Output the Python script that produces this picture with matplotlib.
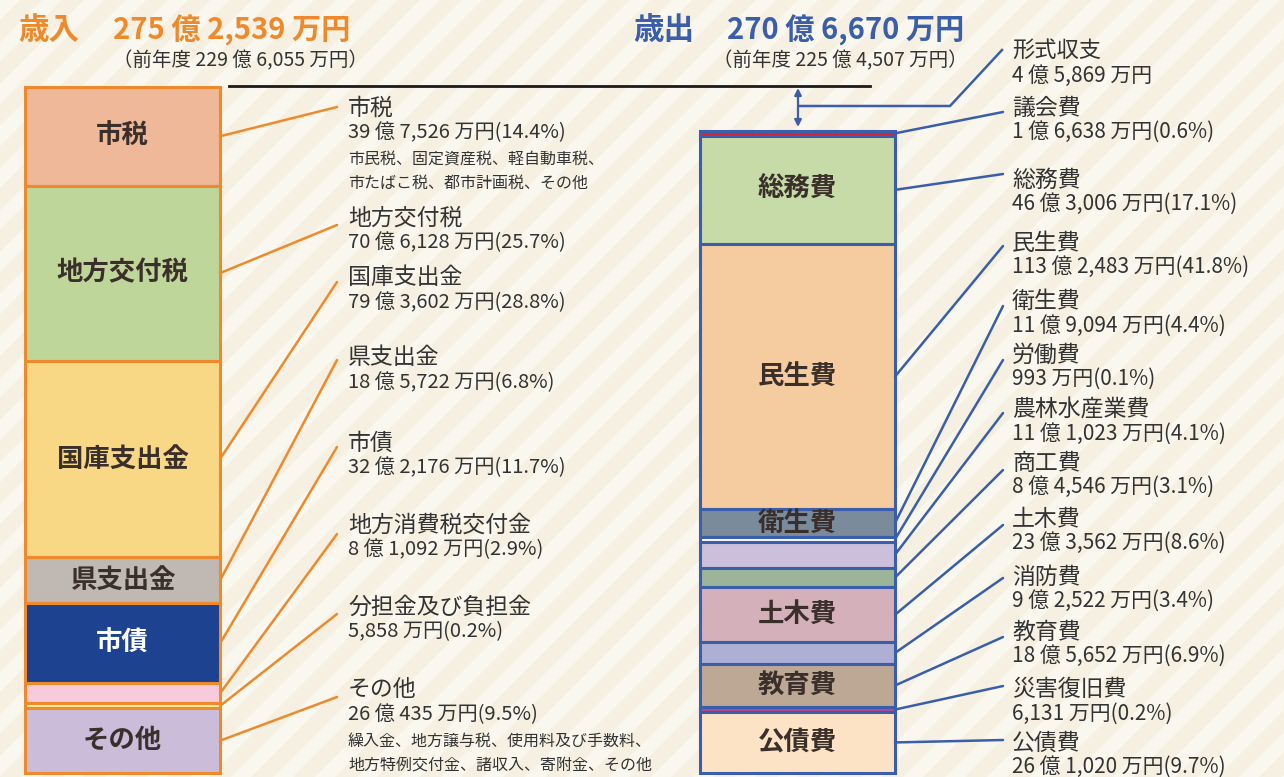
import numpy as np
import matplotlib.pyplot as plt
from matplotlib.patches import Polygon

plt.rcParams['font.family'] = ['Noto Sans CJK JP', 'DejaVu Sans']

W, H = 1284, 777

# 歳入 (億円)
rev_names = ['市税', '地方交付税', '国庫支出金', '県支出金', '市債',
             '地方消費税交付金', '分担金及び負担金', 'その他']
rev_values = [39.7526, 70.6128, 79.3602, 18.5722, 32.2176, 8.1092, 0.5858, 26.0435]
rev_pcts = [14.4, 25.7, 28.8, 6.8, 11.7, 2.9, 0.2, 9.5]
rev_inner = ['市税', '地方交付税', '国庫支出金', '県支出金', '市債', '', '', 'その他']
rev_colors = ['#efb898', '#bfd69b', '#f8d785', '#c0b8b2', '#1d428f',
              '#f7cbdc', '#eef0a0', '#cbbdd9']
rev_notes = {0: ['市民税、固定資産税、軽自動車税、', '市たばこ税、都市計画税、その他'],
             7: ['繰入金、地方譲与税、使用料及び手数料、', '地方特例交付金、諸収入、寄附金、その他']}

# 歳出 (億円)
exp_names = ['議会費', '総務費', '民生費', '衛生費', '労働費', '農林水産業費',
             '商工費', '土木費', '消防費', '教育費', '災害復旧費', '公債費']
exp_values = [1.6638, 46.3006, 113.2483, 11.9094, 0.0993, 11.1023,
              8.4546, 23.3562, 9.2522, 18.5652, 0.6131, 26.1020]
exp_pcts = [0.6, 17.1, 41.8, 4.4, 0.1, 4.1, 3.1, 8.6, 3.4, 6.9, 0.2, 9.7]
exp_inner = ['', '総務費', '民生費', '衛生費', '', '', '', '土木費', '', '教育費', '', '公債費']
exp_colors = ['#d5282e', '#c6dba8', '#f4cc9f', '#7a8b9c', '#ffffff', '#cbbfdc',
              '#9cb49a', '#d4b0bb', '#aeb0d3', '#bda895', '#b34a8e', '#fde3c5']

rev_total = 275.2539
exp_total = 270.6670
rev_prev = 229.6055
exp_prev = 225.4507
keisiki = 4.5869  # 形式収支

ORANGE = '#ef8a2c'
BLUE = '#3a5eab'
TXT = '#333333'


def oku_man(v):
    oku = int(v)
    man = int(round((v - oku) * 10000))
    if oku:
        return f'{oku} 億 {man:,} 万円'
    return f'{man:,} 万円'


fig = plt.figure(figsize=(W / 100, H / 100), dpi=100)
fig.patch.set_facecolor('#f5f0e1')

# striped background
bg = fig.add_axes([0, 0, 1, 1], zorder=0)
bg.set_xlim(0, W)
bg.set_ylim(H, 0)
bg.axis('off')
for x0 in np.arange(-H, W + 60, 42):
    bg.add_patch(Polygon([(x0, H), (x0 + 20, H), (x0 + 20 + H, 0), (x0 + H, 0)],
                         closed=True, fc='#faf7ee', ec='none'))


def stacked(rect, values, colors, inner, edge, inner_white=()):
    ax = fig.add_axes(rect, zorder=2)
    ax.patch.set_alpha(0)
    disp = np.maximum(np.array(values), 2.0)  # thin items kept visible
    bottoms = np.concatenate([[0], np.cumsum(disp)[:-1]])
    ax.bar(np.full(len(disp), 0.5), disp, width=1, bottom=bottoms, color=colors,
           edgecolor=edge, linewidth=2.2, clip_on=False)
    ax.set_xlim(0, 1)
    ax.set_ylim(disp.sum(), 0)
    ax.axis('off')
    mids = bottoms + disp / 2
    for i, t in enumerate(inner):
        if t:
            ax.text(0.5, mids[i], t, ha='center', va='center', fontsize=19,
                    fontweight='bold', color='white' if i in inner_white else '#3a2f2a')
    return ax, mids


lax, lmid = stacked([25 / W, 1 - 773 / H, 195 / W, 686 / H],
                    rev_values, rev_colors, rev_inner, ORANGE, inner_white=(4,))
rax, rmid = stacked([700 / W, 1 - 773 / H, 195 / W, 642 / H],
                    exp_values, exp_colors, exp_inner, BLUE)

ov = fig.add_axes([0, 0, 1, 1], zorder=3)
ov.patch.set_alpha(0)
ov.set_xlim(0, W)
ov.set_ylim(H, 0)
ov.axis('off')

# headers
ov.text(18, 30, '歳入', fontsize=22, fontweight='bold', color=ORANGE, va='center')
ov.text(113, 30, oku_man(rev_total), fontsize=21, fontweight='bold', color=ORANGE, va='center')
ov.text(113, 61, f'（前年度 {oku_man(rev_prev)}）', fontsize=14, color=TXT, va='center')
ov.text(633, 30, '歳出', fontsize=22, fontweight='bold', color=BLUE, va='center')
ov.text(727, 30, oku_man(exp_total), fontsize=21, fontweight='bold', color=BLUE, va='center')
ov.text(713, 61, f'（前年度 {oku_man(exp_prev)}）', fontsize=14, color=TXT, va='center')
ov.plot([229, 870], [86, 86], color='#1a1a1a', lw=2)

# 形式収支 arrow
ov.annotate('', xy=(798, 127), xytext=(798, 88),
            arrowprops=dict(arrowstyle='<|-|>', color=BLUE, lw=1.6, mutation_scale=10,
                            shrinkA=0, shrinkB=0))
ov.plot([800, 950, 1002], [106, 106, 50], color=BLUE, lw=1.8)
ov.text(1012, 50, '形式収支', fontsize=16, color=TXT, va='center')
ov.text(1012, 76, oku_man(keisiki), fontsize=15, color=TXT, va='center')

# revenue labels
rev_title_y = [108, 218, 278, 358, 443, 525, 607, 690]
rev_line_y = [107, 225, 282, 360, 447, 534, 614, 697]
for i, name in enumerate(rev_names):
    ov.annotate('', xy=(1, lmid[i]), xycoords=lax.transData,
                xytext=(337, rev_line_y[i]), textcoords=ov.transData,
                arrowprops=dict(arrowstyle='-', color=ORANGE, lw=1.8, shrinkA=0, shrinkB=0))
    y = rev_title_y[i]
    ov.text(348, y, name, fontsize=16.5, color=TXT, va='center')
    ov.text(348, y + 25, f'{oku_man(rev_values[i])}({rev_pcts[i]}%)', fontsize=14.5,
            color=TXT, va='center')
    for k, note in enumerate(rev_notes.get(i, [])):
        ov.text(348, y + 51 + 24 * k, note, fontsize=11.5, color=TXT, va='center')

# expenditure labels
exp_title_y = [108, 180, 243, 302, 355, 410, 463, 519, 577, 632, 690, 743]
exp_line_y = [112, 174, 246, 306, 360, 413, 470, 525, 578, 637, 686, 740]
for i, name in enumerate(exp_names):
    ov.annotate('', xy=(1, rmid[i]), xycoords=rax.transData,
                xytext=(1003, exp_line_y[i]), textcoords=ov.transData,
                arrowprops=dict(arrowstyle='-', color=BLUE, lw=1.8, shrinkA=0, shrinkB=0))
    y = exp_title_y[i]
    ov.text(1012, y, name, fontsize=16.5, color=TXT, va='center')
    ov.text(1012, y + 24, f'{oku_man(exp_values[i])}({exp_pcts[i]}%)', fontsize=15,
            color=TXT, va='center')

fig.savefig('out.png', dpi=100)
